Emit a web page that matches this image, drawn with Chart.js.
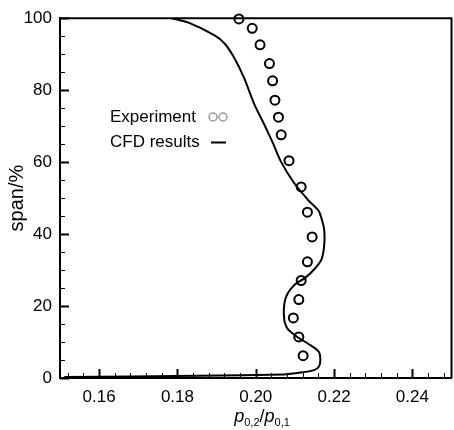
<!DOCTYPE html>
<html lang="en">
<head>
  <meta charset="utf-8">
  <title>Total pressure ratio along span</title>
  <style>
    html, body { margin: 0; padding: 0; background: #fff; overflow: hidden; }
    .chartBox { width: 454px; height: 430px; overflow: hidden; }
  </style>
</head>
<body>
  <div class="chartBox">
    <canvas id="myChart" width="458" height="430"></canvas>
  </div>

  <script src="https://cdn.jsdelivr.net/npm/chart.js/dist/chart.umd.min.js"></script>
  <script>
    // data
    const expX = [0.1957, 0.1991, 0.2011, 0.2035, 0.2043, 0.2049, 0.2058, 0.2065, 0.2085, 0.2116,
                  0.2132, 0.2144, 0.2132, 0.2116, 0.2110, 0.2096, 0.2110, 0.2121];
    const expY = [99.8, 97.2, 92.6, 87.4, 82.6, 77.2, 72.5, 67.6, 60.4, 53.1,
                  46.1, 39.2, 32.3, 27.1, 21.8, 16.7, 11.4, 6.2];

    const cfdX = [0.1786, 0.1830, 0.1895, 0.1921, 0.1946, 0.1971, 0.1997, 0.2022, 0.2045, 0.2064,
                  0.2098, 0.2136, 0.2161, 0.2174, 0.2175, 0.2168, 0.2150, 0.2127, 0.2100, 0.2081,
                  0.2073, 0.2073, 0.2081, 0.2106, 0.2140, 0.2161, 0.2165, 0.2161, 0.2149, 0.2115,
                  0.2073, 0.1853, 0.1511];
    const cfdY = [100, 98.7, 95.2, 92.9, 88.8, 83.2, 75.9, 70.4, 65.0, 60.2,
                  54.2, 49.2, 46.4, 41.8, 37.2, 33.0, 30.3, 27.9, 26.0, 23.4,
                  20.6, 16.0, 13.7, 11.4, 9.1, 7.3, 5.0, 3.1, 2.2, 1.5,
                  1.0, 0.6, 0.3];

    const xTicks = [0.16, 0.18, 0.20, 0.22, 0.24];
    const yTicks = [0, 20, 40, 60, 80, 100];

    const FONT = 'Arial, "Liberation Sans", sans-serif';

    const toPoints = (xs, ys) => xs.map((x, i) => ({ x: x, y: ys[i] }));

    // inward ticks, frame, axis titles and the small legend
    const decorPlugin = {
      id: 'decor',
      afterDraw(chart) {
        const ctx = chart.ctx;
        const a = chart.chartArea;
        const xs = chart.scales.x;
        const ys = chart.scales.y;
        ctx.save();
        ctx.strokeStyle = '#000';

        // frame top + right
        ctx.lineWidth = 2;
        ctx.beginPath();
        ctx.moveTo(a.left, a.top);
        ctx.lineTo(a.right, a.top);
        ctx.lineTo(a.right, a.bottom);
        ctx.stroke();

        // x ticks (minor every 0.004)
        for (let i = 38; i <= 62; i++) {
          const v = i * 0.004;
          const px = Math.round(xs.getPixelForValue(v)) + 0.5;
          const major = i % 5 === 0;
          ctx.lineWidth = major ? 2 : 1;
          ctx.beginPath();
          ctx.moveTo(px, a.bottom);
          ctx.lineTo(px, a.bottom - (major ? 9 : 5));
          ctx.stroke();
        }
        // y ticks (minor every 5)
        for (let v = 0; v <= 100; v += 5) {
          const py = Math.round(ys.getPixelForValue(v)) + 0.5;
          const major = v % 20 === 0;
          ctx.lineWidth = major ? 2 : 1;
          ctx.beginPath();
          ctx.moveTo(a.left, py);
          ctx.lineTo(a.left + (major ? 9 : 5), py);
          ctx.stroke();
        }

        // y title
        ctx.fillStyle = '#000';
        ctx.font = '20px ' + FONT;
        ctx.textAlign = 'center';
        ctx.textBaseline = 'middle';
        ctx.save();
        ctx.translate(17, (a.top + a.bottom) / 2);
        ctx.rotate(-Math.PI / 2);
        ctx.fillText('span/%', 0, 0);
        ctx.restore();

        // x title p0,2/p0,1
        const parts = [
          ['p', 'italic 18px ' + FONT, 0],
          ['0,2', '11px ' + FONT, 4],
          ['/', '18px ' + FONT, 0],
          ['p', 'italic 18px ' + FONT, 0],
          ['0,1', '11px ' + FONT, 4]
        ];
        ctx.textAlign = 'left';
        ctx.textBaseline = 'alphabetic';
        let total = 0;
        parts.forEach(p => { ctx.font = p[1]; total += ctx.measureText(p[0]).width; });
        let tx = 262 - total / 2;
        parts.forEach(p => {
          ctx.font = p[1];
          ctx.fillText(p[0], tx, 422 + p[2]);
          tx += ctx.measureText(p[0]).width;
        });

        // legend
        ctx.font = '17px ' + FONT;
        ctx.fillText('Experiment', 110, 122);
        ctx.fillText('CFD results', 110, 147);
        ctx.strokeStyle = '#999';
        ctx.lineWidth = 1.5;
        [213, 223].forEach(cx => {
          ctx.beginPath();
          ctx.arc(cx, 117, 4, 0, Math.PI * 2);
          ctx.stroke();
        });
        ctx.strokeStyle = '#000';
        ctx.lineWidth = 2;
        ctx.beginPath();
        ctx.moveTo(211, 142.5);
        ctx.lineTo(226, 142.5);
        ctx.stroke();
        ctx.restore();
      }
    };

    const data = {
      datasets: [{
        label: 'CFD results',
        data: toPoints(cfdX, cfdY),
        showLine: true,
        borderColor: '#000',
        borderWidth: 2,
        pointRadius: 0,
        tension: 0.2,
        fill: false
      }, {
        label: 'Experiment',
        data: toPoints(expX, expY),
        showLine: false,
        pointStyle: 'circle',
        pointRadius: 4.5,
        pointBorderWidth: 2,
        pointBorderColor: '#000',
        pointBackgroundColor: 'rgba(255,255,255,0)',
        clip: false
      }]
    };

    const config = {
      type: 'scatter',
      data: data,
      plugins: [decorPlugin],
      options: {
        responsive: false,
        animation: false,
        layout: { padding: { top: 16, right: 2, left: 0, bottom: 0 } },
        plugins: { legend: { display: false }, tooltip: { enabled: false } },
        scales: {
          x: {
            type: 'linear',
            min: 0.15,
            max: 0.25,
            afterBuildTicks: s => { s.ticks = xTicks.map(v => ({ value: v })); },
            afterFit: s => { s.height = 52; },
            grid: { display: false, drawTicks: false },
            border: { display: true, color: '#000', width: 2 },
            ticks: {
              padding: 9,
              color: '#000',
              font: { family: FONT, size: 17 },
              maxRotation: 0,
              callback: v => v.toFixed(2)
            }
          },
          y: {
            type: 'linear',
            min: 0,
            max: 100,
            afterBuildTicks: s => { s.ticks = yTicks.map(v => ({ value: v })); },
            afterFit: s => { s.width = 60; },
            grid: { display: false, drawTicks: false },
            border: { display: true, color: '#000', width: 2 },
            ticks: {
              padding: 8,
              color: '#000',
              font: { family: FONT, size: 17 }
            }
          }
        }
      }
    };

    const ctx = document.getElementById('myChart').getContext('2d');
    const myChart = new Chart(ctx, config);
  </script>
</body>
</html>
